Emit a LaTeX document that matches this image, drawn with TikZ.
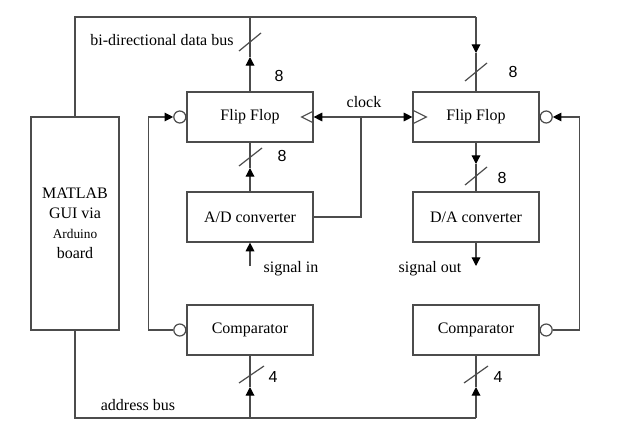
\documentclass[tikz,border=0pt]{standalone}
\usepackage{fontspec}
\setmainfont{Liberation Serif}
\setsansfont{Liberation Sans}
\usetikzlibrary{arrows.meta,calc}
\tikzset{
  blk/.style  = {draw=black!70, line width=0.9pt, rectangle, align=center,
                 minimum width=94.5pt, minimum height=37.5pt, inner sep=0pt,
                 font=\fontsize{12}{14}\selectfont},
  bub/.style  = {draw=black!70, line width=0.9pt, circle, minimum size=9pt,
                 inner sep=0pt},
  ln/.style   = {draw=black!70, line width=0.9pt},
  ar/.style   = {ln, -{Triangle[length=6.5pt,width=6.5pt,color=black]}},
  num/.style  = {font=\sffamily\fontsize{12}{14}\selectfont},
  lbl/.style  = {font=\fontsize{12}{14}\selectfont},
}

\begin{document}
\begin{tikzpicture}[x=0.75pt,y=-0.75pt]
\useasboundingbox (0,0) rectangle (642,435);

%% ---- blocks ----------------------------------------------------------
\node[blk, minimum width=66pt, minimum height=159.75pt] (mat) at (75,223.5)
  {MATLAB\\[1pt] GUI via\\[1pt] {\fontsize{10}{12}\selectfont Arduino}\\[1pt] board};

\node[blk] (ffl)  at (250,117) {Flip Flop};
\node[blk] (adc)  at (250,217) {A/D converter};
\node[blk] (cmpl) at (250,330) {Comparator};

\node[blk] (ffr)  at (476,117) {Flip Flop};
\node[blk] (dac)  at (476,217) {D/A converter};
\node[blk] (cmpr) at (476,330) {Comparator};

%% inverting inputs and clock inputs
\node[bub, anchor=east] (fflb)  at (ffl.west)  {};
\node[bub, anchor=east] (cmplb) at (cmpl.west) {};
\node[bub, anchor=west] (ffrb)  at (ffr.east)  {};
\node[bub, anchor=west] (cmprb) at (cmpr.east) {};
\draw[ln] ($(ffl.east)+(0,-6)$) -- ++(-12,6) -- ++(12,6);
\draw[ln] ($(ffr.west)+(0,-7)$) -- ++(14,7) -- ++(-14,7);

%% ---- data bus --------------------------------------------------------
\coordinate (dtl) at (75,17);
\coordinate (dtm) at (250,17);
\coordinate (dtr) at (476,17);
\coordinate (dal) at (250,57);
\coordinate (dar) at (476,53);
\draw[ln] (mat.north) -- (dtl) -- (dtr);
\draw[ar] (ffl.north) -- (dal);
\draw[ln] (dal) -- (dtm);
\draw[ar] (dtr) -- (dar);
\draw[ln] (dar) -- (ffr.north);
\draw[ln] (239,51) -- (261,33);
\draw[ln] (465,81) -- (487,63);
\node[lbl] (dbus) at (162,40) {bi-directional data bus};
\node[num] (n1) at (279,76) {8};
\node[num] (n2) at (513,72) {8};

%% ---- converters ------------------------------------------------------
\coordinate (adl) at (250,168);
\coordinate (dal2) at (476,164);
\draw[ar] (adc.north) -- (adl);
\draw[ln] (adl) -- (ffl.south);
\draw[ar] (ffr.south) -- (dal2);
\draw[ln] (dal2) -- (dac.north);
\draw[ln] (239,166) -- (262,148);
\draw[ln] (465,185) -- (487,167);
\node[num] (n3) at (282,156) {8};
\node[num] (n4) at (502,178) {8};

\coordinate (sin) at (250,266);
\coordinate (sout) at (476,266);
\draw[ar] (sin) -- (adc.south);
\draw[ar] (dac.south) -- (sout);
\node[lbl, anchor=west] (sinl) at (259,269) {signal in};
\node[lbl, anchor=east] (soutl) at (466,269) {signal out};

%% ---- clock -----------------------------------------------------------
\coordinate (ck)  at (361,117);
\coordinate (ckb) at (361,217);
\draw[ln] (adc.east) -- (ckb) -- (ck);
\draw[ar] (ck) -- (ffl.east);
\draw[ar] (ck) -- (ffr.west);
\node[lbl] (ckl) at (364,102) {clock};

%% ---- comparator feedback ---------------------------------------------
\draw[ar] (cmplb.west) -- ++(-25,0) |- (fflb.west);
\draw[ar] (cmprb.east) -- ++(27,0) |- (ffrb.east);

%% ---- address bus -----------------------------------------------------
\coordinate (abl) at (75,418);
\coordinate (abm) at (250,418);
\coordinate (abr) at (476,418);
\coordinate (aal) at (250,387);
\coordinate (aar) at (476,387);
\draw[ln] (mat.south) -- (abl) -- (abr);
\draw[ar] (abm) -- (aal);
\draw[ln] (aal) -- (cmpl.south);
\draw[ar] (abr) -- (aar);
\draw[ln] (aar) -- (cmpr.south);
\draw[ln] (239,383) -- (264,366);
\draw[ln] (464,383) -- (488,366);
\node[lbl] (abus) at (138,405) {address bus};
\node[num] (n5) at (273,377) {4};
\node[num] (n6) at (498,377) {4};
\end{tikzpicture}
\end{document}
